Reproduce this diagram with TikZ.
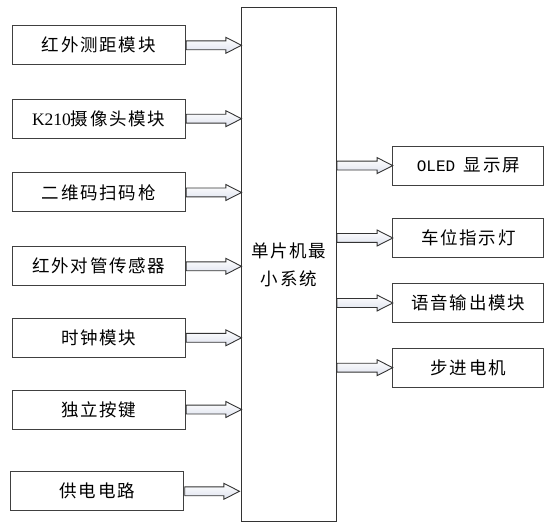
\documentclass[tikz,border=0pt]{standalone}
\usepackage{fontspec}
\usepackage{tikz}
\usetikzlibrary{calc,shapes.arrows}
\setmainfont{Liberation Serif}
\setmonofont{Liberation Mono}
\newfontfamily\cjk{Noto Sans CJK SC}[LetterSpace=10]

\tikzset{
  modbox/.style={draw=black!75, line width=1pt, fill=white, minimum width=173pt,
    minimum height=39pt, inner sep=0pt, font=\cjk\fontsize{17.5}{28}\selectfont},
  outbox/.style={modbox, minimum width=151pt},
  mcubox/.style={draw=black!80, line width=1pt, minimum width=94.5pt, minimum height=514.5pt,
    inner sep=0pt, align=center, font=\cjk\fontsize{17.5}{28}\selectfont},
  blockarrow/.style={single arrow, draw=black!80, line width=0.9pt, inner xsep=0pt, inner ysep=4pt,
    minimum width=15pt, single arrow head extend=3.5pt, single arrow tip angle=54,
    top color=white, bottom color={rgb,255:red,222;green,226;blue,238}, anchor=tail}
}

\begin{document}
\begin{tikzpicture}[x=1pt,y=-1pt]
    \useasboundingbox (0,0) rectangle (555,532);

    % main controller
    \node[mcubox] (mcu) at (288.8,264.5) {单片机最\\小系统};

    % inputs
    \node[modbox] (ir) at (98.8,45.3) {红外测距模块};
    \node[modbox] (cam) at (98.8,118.7) {{\rmfamily K210}摄像头模块};
    \node[modbox] (scan) at (98.8,192.5) {二维码扫码枪};
    \node[modbox] (pair) at (98.8,266.3) {红外对管传感器};
    \node[modbox] (clock) at (98.8,337.8) {时钟模块};
    \node[modbox] (key) at (98.8,409.5) {独立按键};
    \node[modbox] (power) at (97.3,491.3) {供电电路};

    % outputs
    \node[outbox] (oled) at (468.3,165.6) {{\ttfamily\fontsize{16}{20}\selectfont OLED}\ \,显示屏};
    \node[outbox] (led) at (468.3,238) {车位指示灯};
    \node[outbox] (voice) at (468.3,303) {语音输出模块};
    \node[outbox] (motor) at (468.3,367.7) {步进电机};

    % arrows into the controller
    \path let \p1=(ir.east), \p2=(mcu.west) in node[blockarrow, minimum height=\x2-\x1] at (\p1) {};
    \path let \p1=(cam.east), \p2=(mcu.west) in node[blockarrow, minimum height=\x2-\x1] at (\p1) {};
    \path let \p1=(scan.east), \p2=(mcu.west) in node[blockarrow, minimum height=\x2-\x1] at (\p1) {};
    \path let \p1=(pair.east), \p2=(mcu.west) in node[blockarrow, minimum height=\x2-\x1] at (\p1) {};
    \path let \p1=(clock.east), \p2=(mcu.west) in node[blockarrow, minimum height=\x2-\x1] at (\p1) {};
    \path let \p1=(key.east), \p2=(mcu.west) in node[blockarrow, minimum height=\x2-\x1] at (\p1) {};
    \path let \p1=(power.east), \p2=(mcu.west) in node[blockarrow, minimum height=\x2-\x1-2] at (\p1) {};

    % arrows out of the controller
    \path let \p1=(mcu.east), \p2=(oled.west) in node[blockarrow, minimum height=\x2-\x1] at (\x1,\y2) {};
    \path let \p1=(mcu.east), \p2=(led.west) in node[blockarrow, minimum height=\x2-\x1] at (\x1,\y2) {};
    \path let \p1=(mcu.east), \p2=(voice.west) in node[blockarrow, minimum height=\x2-\x1] at (\x1,\y2) {};
    \path let \p1=(mcu.east), \p2=(motor.west) in node[blockarrow, minimum height=\x2-\x1] at (\x1,\y2) {};
\end{tikzpicture}
\end{document}
